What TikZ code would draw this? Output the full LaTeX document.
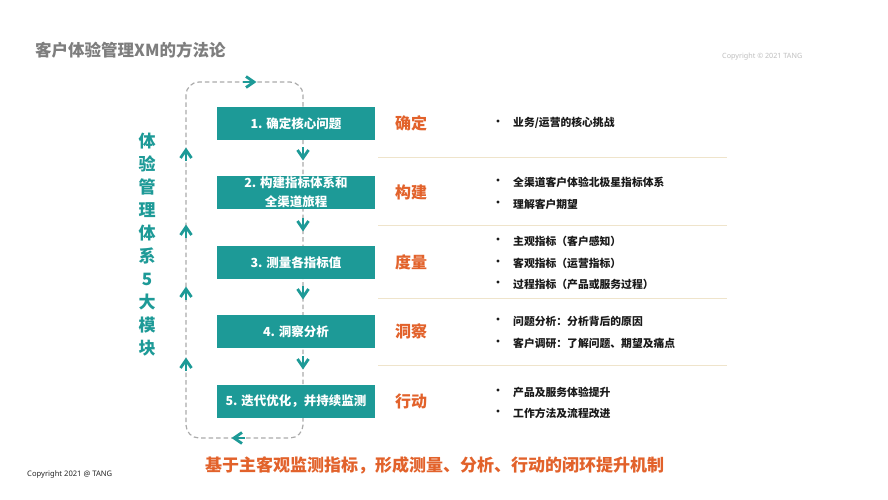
\documentclass[tikz,border=0pt]{standalone}
\usepackage{fontspec}
\setmainfont{Noto Sans CJK SC}
\newfontfamily\latinsans{Noto Sans}
\usetikzlibrary{arrows.meta}
\definecolor{tealc}{HTML}{1D9A97}
\definecolor{orangec}{HTML}{E2622B}
\definecolor{titlegray}{HTML}{7E7E7E}
\definecolor{loopgray}{HTML}{ABABAB}
\definecolor{sepc}{HTML}{EFE4CB}
\definecolor{textc}{HTML}{1A1A1A}
\tikzset{
  stepbox/.style={fill=tealc, text=white, minimum width=158pt, minimum height=33pt, inner sep=0pt,
    font=\fontsize{12.5}{19}\selectfont\bfseries, align=center},
  phase/.style={text=orangec, font=\fontsize{16}{18}\selectfont\bfseries, anchor=west, inner sep=0pt},
  bul/.style={text=textc, font=\fontsize{10.5}{12}\selectfont\bfseries, inner sep=0pt},
  item/.style={text=textc, font=\fontsize{10.8}{12}\selectfont\bfseries, anchor=west, inner sep=0pt},
  sepline/.style={draw=sepc, line width=0.9pt},
  loopline/.style={draw=loopgray, line width=1.2pt, dash pattern=on 4.5pt off 3pt, rounded corners=13pt},
  chev/.style={draw=tealc, line width=2.8pt, line cap=butt, line join=miter},
  stem/.style={draw=tealc, line width=2pt},
}
\begin{document}
\begin{tikzpicture}[x=1pt,y=-1pt]
\useasboundingbox[fill=white] (0,0) rectangle (888,500);

% title
\node[anchor=west, inner sep=0pt, text=titlegray, font=\fontsize{16.5}{18}\selectfont\bfseries] (title) at (35,50) {客户体验管理XM的方法论};
\node[anchor=west, inner sep=0pt, text=black!25, font=\latinsans\fontsize{7.2}{8}\selectfont] (crtop) at (722,57) {Copyright © 2021 TANG};
\node[anchor=west, inner sep=0pt, text=black!85, font=\latinsans\fontsize{7.6}{8}\selectfont\bfseries] (crbot) at (27,475) {Copyright 2021 @ TANG};

% loop
\coordinate (lt) at (186,82);
\coordinate (rb) at (303,438);
\draw[loopline] (lt) rectangle (rb);

% boxes
\node[stepbox] (b1) at (296,123.5) {1. 确定核心问题};
\node[stepbox] (b2) at (296,192.5) {2. 构建指标体系和\\全渠道旅程};
\node[stepbox] (b3) at (296,262.5) {3. 测量各指标值};
\node[stepbox] (b4) at (296,331.5) {4. 洞察分析};
\node[stepbox] (b5) at (296,401.5) {5. 迭代优化，并持续监测};

% down chevrons on right
\foreach \y in {155,226,294,364}{
  \draw[stem] (303,\y-8) -- (303,\y);
  \draw[chev] (297.5,\y-5) -- (303,\y+3) -- (308.5,\y-5);
}
% up chevrons on left
\foreach \y in {153,230,292,363}{
  \draw[stem] (186,\y+8) -- (186,\y);
  \draw[chev] (180.5,\y+5) -- (186,\y-3) -- (191.5,\y+5);
}
% top (right) and bottom (left) chevrons
\draw[stem] (243,82) -- (251,82);
\draw[chev] (246,76.5) -- (254,82) -- (246,87.5);
\draw[stem] (245,438) -- (237,438);
\draw[chev] (242,432.5) -- (234,438) -- (242,443.5);

% vertical label
\node[text=tealc, font=\fontsize{17}{23}\selectfont\bfseries, align=center, inner sep=0pt] (side) at (147,244.5)
  {体\\验\\管\\理\\体\\系\\5\\大\\模\\块};

% phase labels
\node[phase] (p1) at (395,123.5) {确定};
\node[phase] (p2) at (395,192.5) {构建};
\node[phase] (p3) at (395,262.5) {度量};
\node[phase] (p4) at (395,331.5) {洞察};
\node[phase] (p5) at (395,401.5) {行动};

% separators
\foreach \y/\n in {157/s1,225/s2,298/s3,365/s4}{
  \coordinate (\n a) at (378,\y);
  \coordinate (\n b) at (727,\y);
  \draw[sepline] (\n a) -- (\n b);
}

% bullet items
\foreach \y/\t [count=\i] in {
  123/{业务/运营的核心挑战},
  182/{全渠道客户体验北极星指标体系},
  204/{理解客户期望},
  241/{主观指标（客户感知）},
  263/{客观指标（运营指标）},
  284/{过程指标（产品或服务过程）},
  321/{问题分析：分析背后的原因},
  343/{客户调研：了解问题、期望及痛点},
  392/{产品及服务体验提升},
  413/{工作方法及流程改进}}{
  \node[bul] (d\i) at (498,\y) {•};
  \node[item] (t\i) at (513,\y) {\t};
}

% bottom statement
\node[anchor=west, inner sep=0pt, text=orangec, font=\fontsize{17}{19}\selectfont\bfseries] (bottom) at (205,465)
  {基于主客观监测指标，形成测量、分析、行动的闭环提升机制};
\end{tikzpicture}
\end{document}
